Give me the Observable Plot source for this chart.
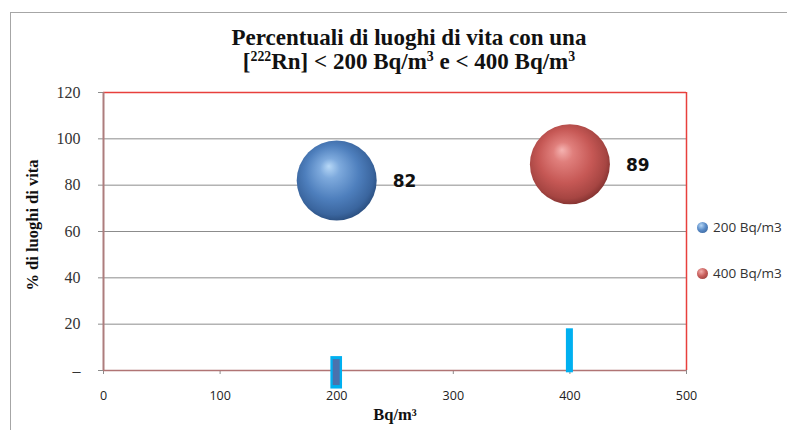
<!DOCTYPE html>
<html>
<head>
<meta charset="utf-8">
<script src="https://cdn.jsdelivr.net/npm/d3@7"></script>
<script src="https://cdn.jsdelivr.net/npm/@observablehq/plot@0.6"></script>
<style>
  body { margin: 0; background: #fff; }
  #wrap { position: relative; width: 787px; height: 430px; overflow: hidden; background: #fff; }
  #wrap svg { position: absolute; left: 0; top: 0; }
  #border { position: absolute; left: 10px; top: 12px; right: -5px; bottom: -5px;
            border-top: 1.5px solid #a6a6a6; border-left: 1.5px solid #a6a6a6; }
  .title { position: absolute; left: 0; width: 818px; text-align: center; line-height: 24px;
           font: bold 23px "Liberation Serif", serif; color: #111; white-space: nowrap; }
  .title sup { font-size: 0.6em; vertical-align: 0.55em; line-height: 0; }
  .axis-title { position: absolute; font: bold 16.5px "Liberation Serif", serif; color: #111; white-space: nowrap; }
  #ylab { left: 33px; top: 225px; transform: translate(-50%, -50%) rotate(-90deg); }
  #xlab { left: 395px; top: 415px; transform: translate(-50%, -50%); }
  #legend { position: absolute; left: 697px; top: 218px; font: 13.5px "Open Sans", sans-serif; color: #333; }
  .item { display: flex; align-items: center; height: 18px; margin-bottom: 28px; white-space: nowrap; }
  .ball { width: 11px; height: 11px; border-radius: 50%; margin-right: 5px; }
</style>
</head>
<body>
<div id="wrap">
  <div id="border"></div>
  <div class="title" style="top: 25px;">Percentuali di luoghi di vita con una</div>
  <div class="title" style="top: 49px;">[<sup>222</sup>Rn] &lt; 200 Bq/m<sup>3</sup> e &lt; 400 Bq/m<sup>3</sup></div>
  <div class="axis-title" id="ylab">% di luoghi di vita</div>
  <div class="axis-title" id="xlab">Bq/m³</div>
  <div id="legend"></div>
</div>
<script>
// Series: radon concentration threshold and share of living places below it
const series = ["200 Bq/m3", "400 Bq/m3"];
const doses = [200, 400];
const percentages = [82, 89];
const gradients = ["ballBlue", "ballRed"];
const legendColors = [
  "radial-gradient(circle at 38% 32%, #b5d6f5 0%, #5b8cc8 45%, #2f5a91 100%)",
  "radial-gradient(circle at 38% 32%, #f3b0ae 0%, #c9605d 45%, #8a3331 100%)"
];

// Cyan range bars drawn at the foot of each threshold
const rangeX1 = [195, 397];
const rangeX2 = [205, 403];
const rangeLow = [-8, -1];
const rangeHigh = [6, 18];
// darker inner bar inside the 200 range
const innerX1 = [197];
const innerX2 = [203];
const innerLow = [-6.5];
const innerHigh = [4.7];

const xTicks = [0, 100, 200, 300, 400, 500];
const yTicks = [0, 20, 40, 60, 80, 100, 120];
const gridTicks = [20, 40, 60, 80, 100];

const points = series.map((s, i) => ({ series: s, x: doses[i], y: percentages[i], grad: gradients[i] }));
const ranges = rangeX1.map((_, i) => ({ x1: rangeX1[i], x2: rangeX2[i], y1: rangeLow[i], y2: rangeHigh[i] }));
const inner = innerX1.map((_, i) => ({ x1: innerX1[i], x2: innerX2[i], y1: innerLow[i], y2: innerHigh[i] }));

const svg = Plot.plot({
  width: 787,
  height: 430,
  marginLeft: 103,
  marginRight: 101,
  marginTop: 92,
  marginBottom: 60,
  style: { background: "transparent", overflow: "visible" },
  x: { domain: [0, 500] },
  y: { domain: [0, 120] },
  marks: [
    Plot.gridY(gridTicks, { stroke: "#8c8c8c", strokeOpacity: 1, strokeWidth: 1 }),
    Plot.ruleY([120], { stroke: "#e8403c", strokeWidth: 1.5 }),
    Plot.ruleX([500], { stroke: "#e8403c", strokeWidth: 1.5 }),
    Plot.axisY({
      ticks: yTicks, tickSize: 5, tickPadding: 18, stroke: "#8c8c8c",
      tickFormat: d => d === 0 ? "–" : String(d), label: null,
      fontFamily: "Liberation Serif", fontSize: 16, fill: "#333"
    }),
    Plot.axisX({
      ticks: xTicks, tickSize: 4, tickPadding: 17, stroke: "#8c8c8c",
      label: null, fontFamily: "Open Sans", fontSize: 12.5, fill: "#222"
    }),
    Plot.ruleX([0], { stroke: "#ad7d7d", strokeWidth: 2 }),
    Plot.ruleY([0], { stroke: "#b07474", strokeWidth: 1.5 }),
    Plot.rect(ranges, { x1: "x1", x2: "x2", y1: "y1", y2: "y2", fill: "#00b0f0" }),
    Plot.rect(inner, { x1: "x1", x2: "x2", y1: "y1", y2: "y2", fill: "#4a72ad" }),
    ...points.map(p => Plot.dot([p], { x: "x", y: "y", r: 40, fill: `url(#${p.grad})`, stroke: "none" })),
    Plot.text(points, {
      x: "x", y: "y", text: d => String(d.y), dx: 56, dy: 1, textAnchor: "start",
      fontFamily: "DejaVu Sans", fontWeight: "bold", fontSize: 17, fill: "#111"
    })
  ]
});

// sphere shading for the bubbles
d3.select(svg).insert("defs", ":first-child").html(`
  <radialGradient id="ballBlue" cx="0.47" cy="0.45" r="0.56" fx="0.4" fy="0.32">
    <stop offset="0" stop-color="#b7d8f7"/>
    <stop offset="0.22" stop-color="#7eaadd"/>
    <stop offset="0.6" stop-color="#4e7fbd"/>
    <stop offset="0.88" stop-color="#3a659e"/>
    <stop offset="1" stop-color="#2b4f80"/>
  </radialGradient>
  <radialGradient id="ballRed" cx="0.47" cy="0.45" r="0.56" fx="0.4" fy="0.32">
    <stop offset="0" stop-color="#f5b3b1"/>
    <stop offset="0.22" stop-color="#e07f7c"/>
    <stop offset="0.6" stop-color="#c65855"/>
    <stop offset="0.88" stop-color="#a64542"/>
    <stop offset="1" stop-color="#843331"/>
  </radialGradient>`);

document.getElementById("wrap").insertBefore(svg, document.getElementById("border").nextSibling);

const legend = d3.select("#legend");
series.forEach((s, i) => {
  const item = legend.append("div").attr("class", "item");
  item.append("div").attr("class", "ball").style("background", legendColors[i]);
  item.append("span").text(s);
});
</script>
</body>
</html>
